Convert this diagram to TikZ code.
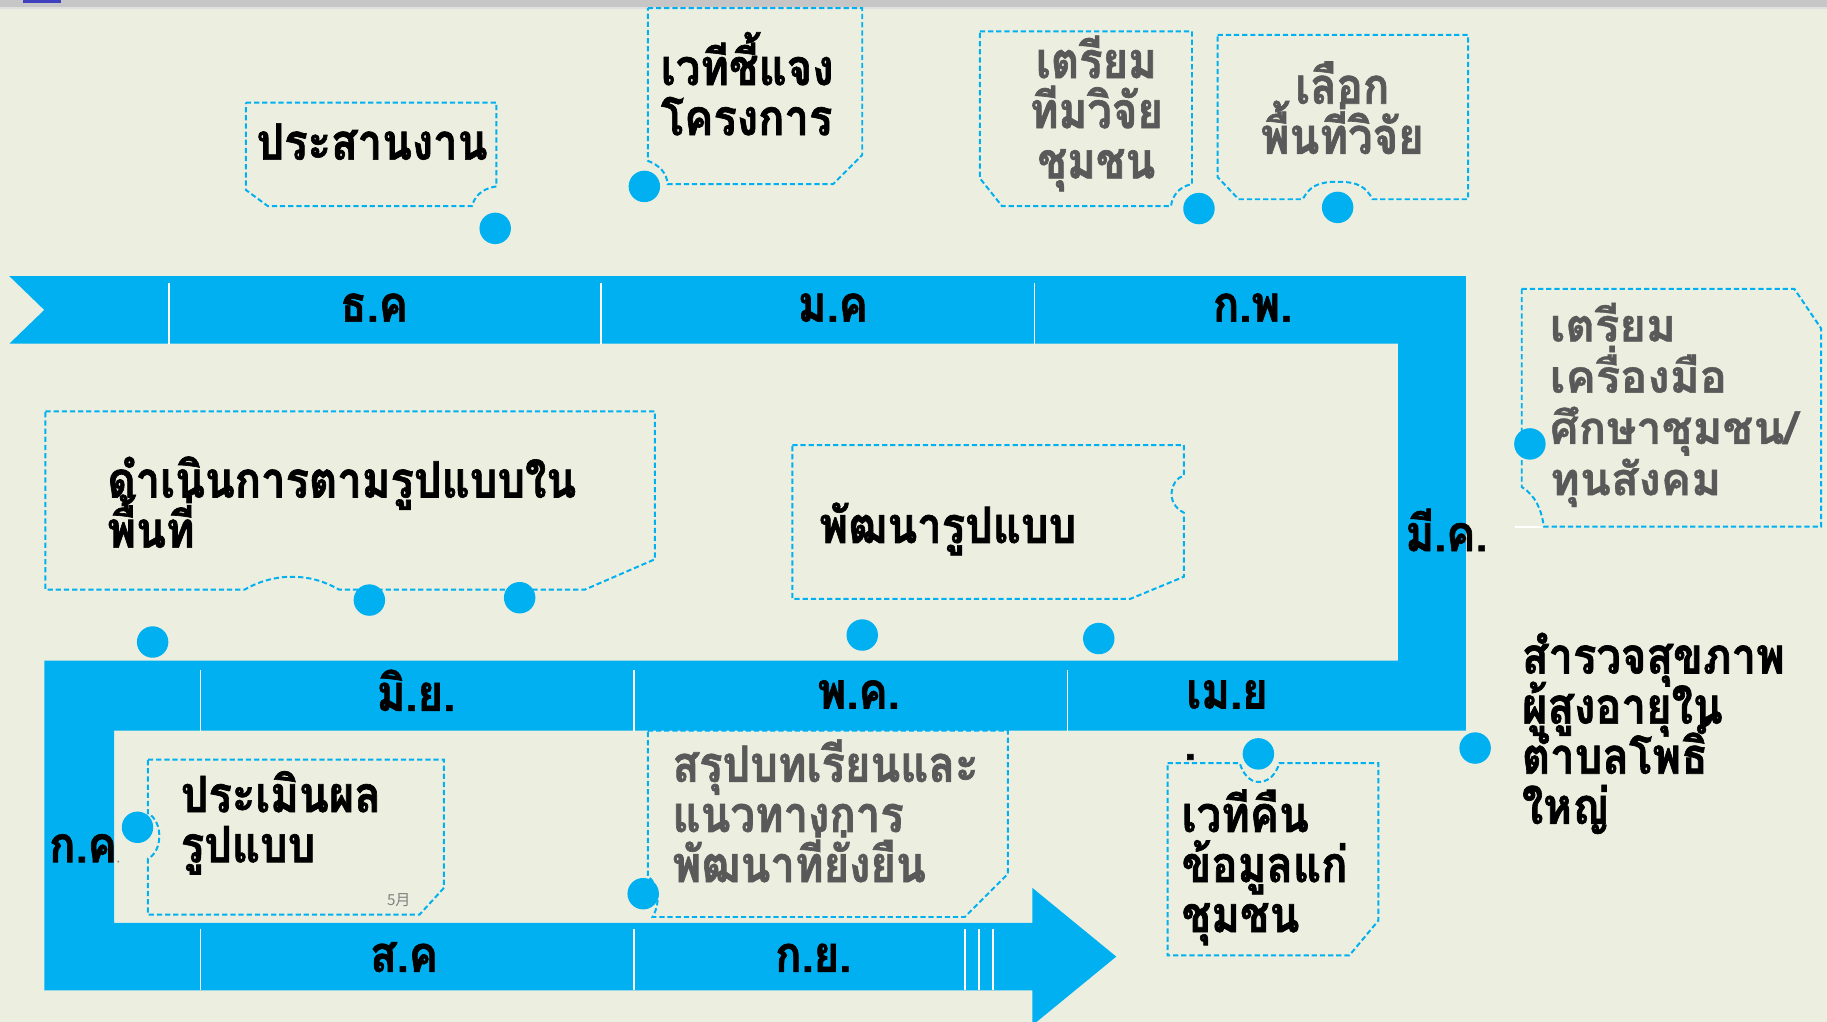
\documentclass[tikz,border=0pt]{standalone}
\usepackage{fontspec}
\newfontfamily\thc[Script=Thai,FakeStretch=0.87,FakeBold=1.3]{Loma}
\newfontfamily\thn[Script=Thai,FakeBold=0.8]{Loma}
\newfontfamily\cjk{Noto Sans CJK SC}
\definecolor{bg}{HTML}{ECEFE0}
\definecolor{tblue}{HTML}{00B0F0}
\definecolor{tgray}{HTML}{595959}
\newcommand{\LinesL}[1]{\vtop{\lineskiplimit=-1000pt\lineskip=0pt\halign{##\hfil\cr#1\crcr}}}
\newcommand{\LinesC}[1]{\vtop{\lineskiplimit=-1000pt\lineskip=0pt\halign{\hfil##\hfil\cr#1\crcr}}}
\newcommand{\smalldot}{{\fontsize{10}{10}\selectfont\color{gray}.}}
\tikzset{
  box/.style={draw=tblue, line width=1.7pt, dash pattern=on 4.5pt off 2.5pt},
  dot/.style={circle, fill=tblue, inner sep=0pt, minimum size=27pt},
  divider/.style={draw=white, line width=1.3pt},
  condtxt/.style={anchor=base west, inner sep=0pt, text=black, font=\thc\bfseries\fontsize{43}{43}\selectfont},
  graytxt/.style={anchor=base west, inner sep=0pt, text=tgray, font=\thc\bfseries\fontsize{43}{43}\selectfont},
  loomtxt/.style={anchor=base west, inner sep=0pt, text=tgray, font=\thn\bfseries\fontsize{39}{44}\selectfont},
  month/.style={anchor=base, inner sep=0pt, text=black, font=\thc\bfseries\fontsize{43}{43}\selectfont},
}
\begin{document}
\begin{tikzpicture}[x=1pt,y=-1pt]
\useasboundingbox (0,0) rectangle (1568,877);
\fill[bg] (0,0) rectangle (1568,877);
% top strip
\fill[gray!45] (0,0) rectangle (1568,6);
\fill[gray!25] (0,6) rectangle (1568,8);
\fill[blue!50!gray] (20,0) rectangle (52,3);

% blue timeline
\fill[tblue] (8,237) -- (1258,237) -- (1258,627) -- (98,627) -- (98,792) -- (886,792)
  -- (886,762) -- (958,821) -- (886,880) -- (886,850) -- (38,850) -- (38,567)
  -- (1200,567) -- (1200,295) -- (8,295) -- (38,266) -- cycle;

% dividers
\foreach \x in {145,516,888} \draw[divider] (\x,243) -- (\x,295);
\foreach \x in {172,544,916} \draw[divider] (\x,575) -- (\x,627);
\foreach \x in {172,544,828,840,852} \draw[divider] (\x,797) -- (\x,850);
\draw[white, line width=1.5pt] (1300,452) -- (1325,452);

% month labels
\node[month] (dec) at (321,276) {ธ.ค};
\node[month] (jan) at (716,276) {ม.ค\smalldot};
\node[month] (feb) at (1075,276) {ก.พ.};
\node[condtxt] (mar) at (1206,473) {มี.ค.};
\node[month] (jun) at (357,610) {มิ.ย.};
\node[month] (may) at (737,608) {พ.ค.};
\node[condtxt] (apr) at (1018,608) {เม.ย};
\node[condtxt] (aprdot) at (1016,652) {.};
\node[condtxt] (jul) at (42,740) {ก.ค\smalldot};
\node[month] (aug) at (348,834) {ส.ค\smalldot};
\node[month] (sep) at (698,834) {ก.ย.};

% boxes
\draw[box] (211,88) -- (426,88) -- (426,160) .. controls (412,162) and (407,170) .. (405,177) -- (230,177) -- (211,163) -- cycle;
\draw[box] (556,7) -- (740,7) -- (740,133) -- (715,158) -- (573,158) .. controls (572,148) and (566,142) .. (556,138) -- cycle;
\draw[box] (841,27) -- (1023,27) -- (1023,158) .. controls (1012,160) and (1006,168) .. (1005,177) -- (860,177) -- (841,153) -- cycle;
\draw[box] (1045,30) -- (1260,30) -- (1260,171) -- (1178,171) .. controls (1172,160) and (1165,156) .. (1148,156) .. controls (1131,156) and (1124,160) .. (1118,171) -- (1063,171) -- (1045,152) -- cycle;
\draw[box] (1306,248) -- (1540,248) -- (1563,282) -- (1563,452) -- (1325,452) .. controls (1323,438) and (1318,425) .. (1306,418) -- cycle;
\draw[box] (39,353) -- (562,353) -- (562,480) -- (502,506) -- (291,506) .. controls (275,497) and (262,495) .. (250,495) .. controls (235,495) and (220,500) .. (210,506) -- (39,506) -- cycle;
\draw[box] (680,382) -- (1016,382) -- (1016,408) .. controls (1004,412) and (1000,432) .. (1016,440) -- (1016,495) -- (970,514) -- (680,514) -- cycle;
\draw[box] (127,652) -- (381,652) -- (381,762) -- (360,785) -- (127,785) -- (127,737) .. controls (140,730) and (140,705) .. (127,698) -- cycle;
\draw[box] (556,627) -- (865,627) -- (865,750) -- (828,787) -- (560,787) .. controls (567,775) and (566,760) .. (556,752) -- cycle;
\draw[box] (1002,655) -- (1064,655) .. controls (1068,668) and (1076,672) .. (1082,671) .. controls (1090,670) and (1095,664) .. (1098,655) -- (1183,655) -- (1183,790) -- (1158,820) -- (1002,820) -- cycle;

% texts
\node[condtxt] (t1) at (220,137) {ประสานงาน};
\node[condtxt] (t2) at (567,73) {\LinesL{เวทีชี้แจง\cr โครงการ}};
\node[graytxt, anchor=base] (t3) at (941,67) {\LinesC{เตรียม\cr ทีมวิจัย\cr ชุมชน}};
\node[graytxt, anchor=base] (t4) at (1152,89) {\LinesC{เลือก\cr พื้นที่วิจัย}};
\node[loomtxt] (t5) at (1330,293) {\LinesL{เตรียม\cr เครื่องมือ\cr ศึกษาชุมชน/\cr ทุนสังคม}};
\node[condtxt] (t6) at (92,427) {\LinesL{ดำเนินการตามรูปแบบใน\cr พื้นที่}};
\node[condtxt] (t7) at (703,466) {พัฒนารูปแบบ};
\node[condtxt] (t8) at (155,697) {\LinesL{ประเมินผล\cr รูปแบบ}};
\node[anchor=base west, inner sep=0pt, text=gray, font=\cjk\fontsize{13}{13}\selectfont] (t8b) at (332,777) {5月};
\node[graytxt] (t9) at (577,671) {\LinesL{สรุปบทเรียนและ\cr แนวทางการ\cr พัฒนาที่ยั่งยืน}};
\node[condtxt] (t10) at (1014,714) {\LinesL{เวทีคืน\cr ข้อมูลแก่\cr ชุมชน}};
\node[condtxt] (t11) at (1306,578) {\LinesL{สำรวจสุขภาพ\cr ผู้สูงอายุใน\cr ตำบลโพธิ์\cr ใหญ่}};

% dots
\node[dot] (d1) at (425,196) {};
\node[dot] (d2) at (553,160) {};
\node[dot] (d3) at (1029,179) {};
\node[dot] (d4) at (1148,178) {};
\node[dot] (d5) at (1313,381) {};
\node[dot] (d6) at (131,551) {};
\node[dot] (d7) at (317,515) {};
\node[dot] (d8) at (446,513) {};
\node[dot] (d9) at (740,545) {};
\node[dot] (d10) at (943,548) {};
\node[dot] (d11) at (1266,642) {};
\node[dot] (d12) at (1080,647) {};
\node[dot] (d13) at (118,710) {};
\node[dot] (d14) at (552,767) {};
\end{tikzpicture}
\end{document}
